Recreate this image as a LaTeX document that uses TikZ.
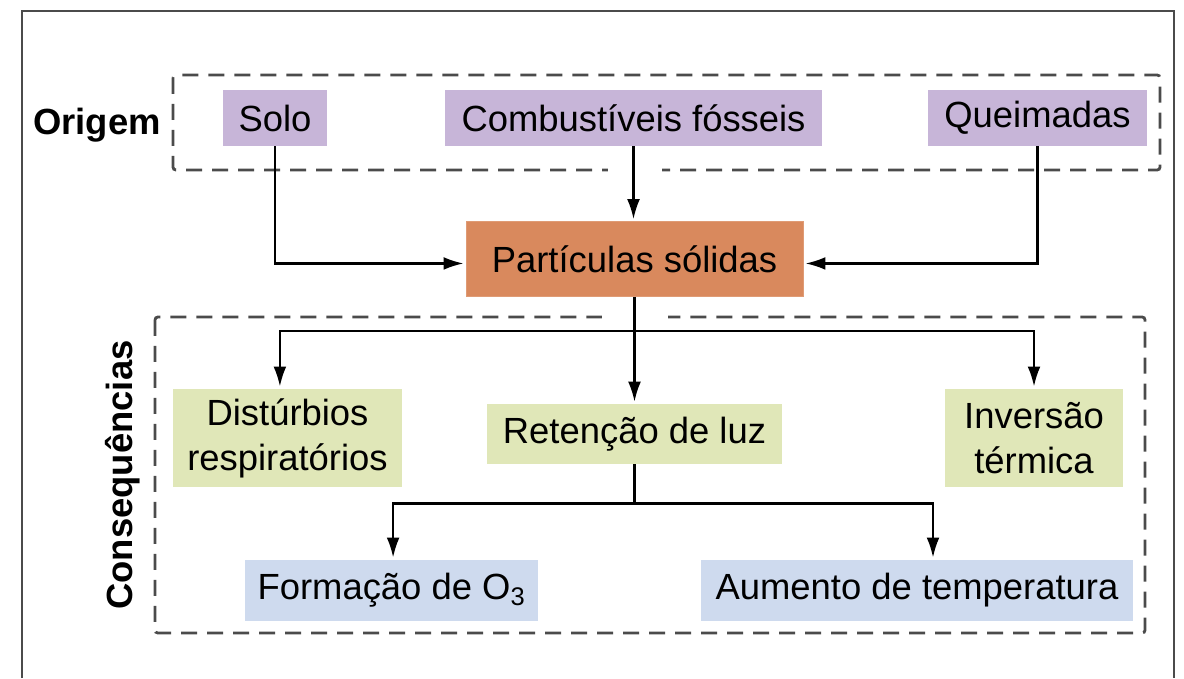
\documentclass[tikz,border=0pt]{standalone}
\usepackage{fontspec}
\setmainfont{Liberation Sans}
\usepackage{tikz}
\usetikzlibrary{positioning, arrows.meta, calc}
\definecolor{origemColor}{RGB}{199, 181, 216}
\definecolor{particulaColor}{RGB}{217, 137, 93}
\definecolor{efeitoColor}{RGB}{224, 231, 184}
\definecolor{secundColor}{RGB}{206, 218, 238}
\definecolor{lineGray}{RGB}{75, 75, 75}

\begin{document}
\begin{tikzpicture}[
        caixa/.style={
            rectangle,
            inner sep=0pt,
            minimum height=1.4cm,
            align=center,
            font=\fontsize{25.9}{32}\selectfont
        },
        origem/.style={caixa, fill=origemColor},
        particula/.style={caixa, fill=particulaColor, draw=particulaColor!85!white,
            minimum height=1.875cm},
        efeito/.style={caixa, fill=efeitoColor},
        secund/.style={caixa, fill=secundColor, minimum height=1.525cm},
        grupo/.style={
            draw=lineGray,
            line width=2pt,
            dash pattern=on 0.4cm off 0.25cm,
            rounded corners=2pt
        },
        rotulo/.style={font=\fontsize{25.9}{32}\selectfont\bfseries},
        flecha/.style={
            -{Latex[length=5mm, width=3.2mm]},
            line width=1.6pt,
            shorten >=1.5pt
        }
    ]

    \useasboundingbox (0,0) rectangle (29.6,-16.95);

    % moldura
    \draw[lineGray, line width=1.8pt] (0.55,-16.95) |- (29.35,-0.275) -- (29.35,-16.95);

    % grupos
    \draw[grupo] (4.325,-1.875) rectangle (29.0,-4.25);
    \draw[grupo] (3.875,-7.925) rectangle (28.625,-15.825);
    \fill[white] (15.2,-4.1) rectangle (16.55,-4.4);
    \fill[white] (15.05,-7.78) rectangle (16.7,-8.07);

    \node[rotulo] (lblorigem) at (2.425,-3.125) {Origem};
    \node[rotulo, rotate=90] (lblconseq) at (3.075,-11.875) {Consequências};

    % origem
    \node[origem, minimum width=2.6cm] (solo) at (6.875,-2.95) {Solo};
    \node[origem, minimum width=9.425cm] (comb) at (15.8375,-2.95) {Combustíveis fósseis};
    \node[origem, minimum width=5.475cm] (queim) at (25.9375,-2.95) {Queimadas};

    \node[particula, minimum width=8.425cm, below=1.875cm of comb.south, anchor=north,
        xshift=0.025cm] (part) {Partículas sólidas};

    % consequencias
    \node[efeito, minimum width=5.725cm, minimum height=2.45cm] (dist) at (7.1875,-10.95)
        {Distúrbios\\respiratórios};
    \node[efeito, minimum width=7.375cm, minimum height=1.5cm, below=2.675cm of part.south,
        anchor=north] (ret) {Retenção de luz};
    \node[efeito, minimum width=4.45cm, minimum height=2.45cm] (inv) at (25.85,-10.95)
        {Inversão\\térmica};

    \node[secund, minimum width=7.325cm] (formo) at (9.7875,-14.7625)
        {Formação de O\textsubscript{3}};
    \node[secund, minimum width=10.8cm] (aum) at (22.925,-14.7625)
        {Aumento de temperatura};

    \coordinate[below=0.85cm of part.south] (split1);
    \coordinate[below=0.975cm of ret.south] (split2);

    \draw[flecha] (solo.south) |- ($(part.west)+(0,-0.11)$);
    \draw[flecha] (queim.south) |- ($(part.east)+(0,-0.11)$);
    \draw[flecha] (comb.south) -- (comb.south |- part.north);

    \draw[flecha] (part.south) -- (ret.north);
    \draw[flecha] (split1) -| ([xshift=-0.19cm]dist.north);
    \draw[flecha] (split1) -| (inv.north);

    \draw[line width=1.6pt] (ret.south) -- (split2);
    \draw[flecha] (split2) -| ([xshift=0.04cm]formo.north);
    \draw[flecha] (split2) -| ([xshift=0.4cm]aum.north);

\end{tikzpicture}
\end{document}
